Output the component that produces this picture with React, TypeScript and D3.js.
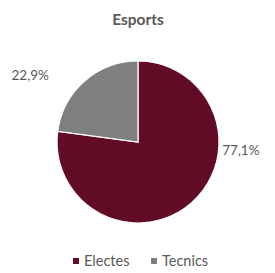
import * as d3 from "d3";
import { useEffect, useRef } from "react";

const categories = ["Electes", "Tecnics"];
const values = [77.1, 22.9];
const labels = ["77,1%", "22,9%"];
const colors = ["#620b24", "#7f7f7f"];

const App = () => {
    const ref = useRef<SVGSVGElement>(null);
    const width = 275;
    const height = 273;

    useEffect(() => {
        const svg = d3.select(ref.current);
        svg.selectAll("*").remove();

        const cx = 138;
        const cy = 142;
        const radius = 81;
        const font = "Lato, sans-serif";

        // заголовок
        svg.append("text")
            .attr("x", cx)
            .attr("y", 25)
            .attr("text-anchor", "middle")
            .style("font-family", font)
            .style("font-weight", "bold")
            .style("font-size", "15.5px")
            .style("fill", "#595959")
            .text("Esports");

        const pie = d3.pie<number>().sort(null).value(d => d);
        const arcs = pie(values);
        const arc = d3.arc<d3.PieArcDatum<number>>().innerRadius(0).outerRadius(radius);

        const g = svg.append("g").attr("transform", `translate(${cx},${cy})`);
        g.selectAll("path")
            .data(arcs)
            .enter()
            .append("path")
            .attr("d", arc)
            .style("fill", (d, i) => colors[i])
            .style("stroke", "#fff")
            .style("stroke-width", 1.2);

        // подписи снаружи (best fit, как в Excel)
        const labelArc = d3.arc<d3.PieArcDatum<number>>().innerRadius(radius + 28).outerRadius(radius + 28);
        const shift = [[31, -74], [-36, 15]];
        g.selectAll("text.lbl")
            .data(arcs)
            .enter()
            .append("text")
            .attr("class", "lbl")
            .attr("transform", (d, i) => {
                const [x, y] = labelArc.centroid(d);
                return `translate(${x + shift[i][0]},${y + shift[i][1]})`;
            })
            .attr("text-anchor", "middle")
            .attr("dy", "0.35em")
            .style("font-family", font)
            .style("font-size", "13.5px")
            .style("fill", "#595959")
            .text((d, i) => labels[i]);

        // легенда
        const legendX = [73, 151];
        const legend = svg.append("g");
        categories.forEach((c, i) => {
            legend.append("rect")
                .attr("x", legendX[i])
                .attr("y", 258)
                .attr("width", 6)
                .attr("height", 6)
                .style("fill", colors[i]);
            legend.append("text")
                .attr("x", legendX[i] + 11)
                .attr("y", 266)
                .style("font-family", font)
                .style("font-size", "14.5px")
                .style("fill", "#595959")
                .text(c);
        });
    }, []);

    return (
        <svg ref={ref} width={width} height={height} style={{ position: "absolute", left: 0, top: 0 }}></svg>
    );
};

export default App;
